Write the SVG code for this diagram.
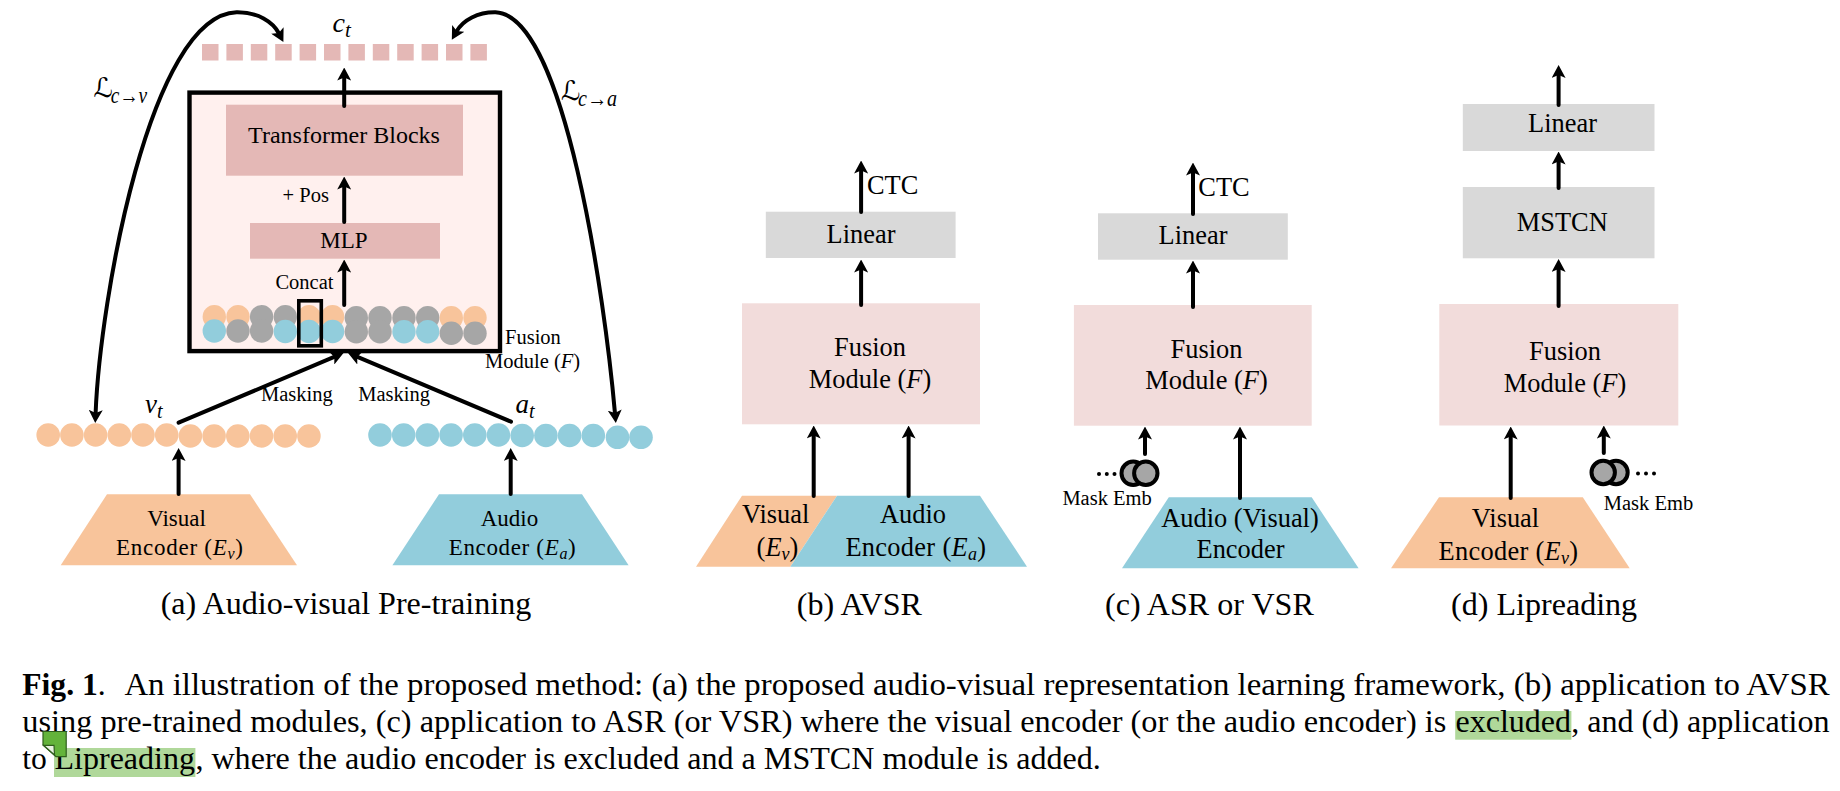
<svg xmlns="http://www.w3.org/2000/svg" width="1840" height="791" viewBox="0 0 1840 791">
<defs>
<style>
text{font-family:"Liberation Serif","Times New Roman",serif;fill:#000}
.s20{font-size:20.5px}.s23{font-size:23px}.s24{font-size:24px}.s26{font-size:26.4px}.s32{font-size:32.1px}.b{font-size:31.6px}
.m{text-anchor:middle}
.i{font-style:italic}
.sq{fill:#e4b8b6}.o{fill:#f8c49b}.bl{fill:#92cddc}.g{fill:#a6a6a6}
.gr{fill:#d9d9d9}.pk{fill:#f2dcdb}.hl{fill:#b0d89a}
.ring{fill:#a6a6a6;stroke:#000;stroke-width:4}
.c{stroke:#000;stroke-width:4;fill:none;stroke-linecap:round}
.a{marker-end:url(#h)}
.aa{marker-start:url(#h);marker-end:url(#h)}
</style>
<marker id="h" markerUnits="userSpaceOnUse" markerWidth="13" markerHeight="14" viewBox="0 0 13 14" refX="3.5" refY="7" orient="auto-start-reverse"><path d="M0 0L13 7L0 14L3 7Z" fill="#000"/></marker>
</defs>
<rect width="1840" height="791" fill="#fff"/>

<g id="ct-tokens">
<rect class="sq" x="202" y="44" width="16.5" height="16.5"/><rect class="sq" x="226.4" y="44" width="16.5" height="16.5"/><rect class="sq" x="250.8" y="44" width="16.5" height="16.5"/><rect class="sq" x="275.2" y="44" width="16.5" height="16.5"/><rect class="sq" x="299.6" y="44" width="16.5" height="16.5"/><rect class="sq" x="324" y="44" width="16.5" height="16.5"/><rect class="sq" x="348.4" y="44" width="16.5" height="16.5"/><rect class="sq" x="372.8" y="44" width="16.5" height="16.5"/><rect class="sq" x="397.2" y="44" width="16.5" height="16.5"/><rect class="sq" x="421.6" y="44" width="16.5" height="16.5"/><rect class="sq" x="446" y="44" width="16.5" height="16.5"/><rect class="sq" x="470.4" y="44" width="16.5" height="16.5"/>
<text x="332.5" y="32" font-size="28" class="i">c<tspan font-size="21" dy="5">t</tspan></text>
</g>

<g id="fusion-a">
<rect x="189.5" y="92.6" width="310.5" height="258.5" fill="#fff0ee" stroke="#000" stroke-width="4.4"/>
<g id="transformer-blocks"><rect class="sq" x="226" y="104.7" width="237" height="71"/><text class="s24 m" x="344" y="143">Transformer Blocks</text></g>
<g id="mlp"><rect class="sq" x="250" y="223" width="190" height="35.7"/><text class="s23 m" x="344" y="247.7">MLP</text></g>
<text class="s20" x="282.6" y="201.7">+ Pos</text>
<text class="s20" x="275.4" y="289">Concat</text>
<g id="fused-tokens">
<circle class="o" cx="214.3" cy="316.7" r="11.7"/><circle class="o" cx="238" cy="316.7" r="11.7"/><circle class="g" cx="261.6" cy="316.7" r="11.7"/><circle class="g" cx="285.3" cy="316.7" r="11.7"/><circle class="o" cx="309" cy="316.7" r="11.7"/><circle class="o" cx="332.6" cy="316.7" r="11.7"/><circle class="g" cx="356.3" cy="317.7" r="11.7"/><circle class="g" cx="380" cy="317.7" r="11.7"/><circle class="g" cx="404" cy="317.7" r="11.7"/><circle class="g" cx="427.7" cy="317.7" r="11.7"/><circle class="o" cx="451.3" cy="317.7" r="11.7"/><circle class="o" cx="475" cy="317.7" r="11.7"/>
<circle class="bl" cx="214.3" cy="331" r="11.7"/><circle class="g" cx="238" cy="331" r="11.7"/><circle class="g" cx="261.6" cy="331" r="11.7"/><circle class="bl" cx="285.3" cy="331.5" r="11.7"/><circle class="bl" cx="309" cy="331.5" r="11.7"/><circle class="bl" cx="332.6" cy="331.5" r="11.7"/><circle class="g" cx="356.3" cy="331.7" r="11.7"/><circle class="g" cx="380" cy="331.7" r="11.7"/><circle class="bl" cx="404" cy="331.7" r="11.7"/><circle class="bl" cx="427.7" cy="331.7" r="11.7"/><circle class="g" cx="451.3" cy="333.3" r="11.7"/><circle class="g" cx="475" cy="333.3" r="11.7"/>
<rect x="298.8" y="300.8" width="22.5" height="45" fill="none" stroke="#000" stroke-width="3.6"/>
</g>
<text class="s20" x="505" y="344">Fusion</text>
<text class="s20" x="485" y="368.3">Module (<tspan class="i">F</tspan>)</text>
</g>

<g id="vt-tokens">
<circle class="o" cx="48.2" cy="435" r="11.8"/><circle class="o" cx="71.9" cy="435" r="11.8"/><circle class="o" cx="95.6" cy="435" r="11.8"/><circle class="o" cx="119.3" cy="435" r="11.8"/><circle class="o" cx="143" cy="435" r="11.8"/><circle class="o" cx="166.7" cy="435" r="11.8"/><circle class="o" cx="190.4" cy="436" r="11.8"/><circle class="o" cx="214.1" cy="436" r="11.8"/><circle class="o" cx="237.8" cy="436" r="11.8"/><circle class="o" cx="261.5" cy="436" r="11.8"/><circle class="o" cx="285.2" cy="436" r="11.8"/><circle class="o" cx="308.9" cy="436" r="11.8"/>
<text x="145" y="413" font-size="27" class="i">v<tspan font-size="20" dy="5">t</tspan></text>
</g>
<g id="at-tokens">
<circle class="bl" cx="380" cy="435" r="11.8"/><circle class="bl" cx="403.7" cy="435" r="11.8"/><circle class="bl" cx="427.4" cy="435" r="11.8"/><circle class="bl" cx="451.1" cy="435" r="11.8"/><circle class="bl" cx="474.8" cy="435" r="11.8"/><circle class="bl" cx="498.5" cy="435" r="11.8"/><circle class="bl" cx="522.2" cy="435.5" r="11.8"/><circle class="bl" cx="545.9" cy="435.5" r="11.8"/><circle class="bl" cx="569.6" cy="435.5" r="11.8"/><circle class="bl" cx="593.3" cy="435.5" r="11.8"/><circle class="bl" cx="617.5" cy="437.3" r="11.8"/><circle class="bl" cx="641" cy="437.3" r="11.8"/>
<text x="515.6" y="413" font-size="27" class="i">a<tspan font-size="20" dy="5">t</tspan></text>
</g>

<g id="visual-encoder-a"><polygon class="o" points="107,494.3 250,494.3 297,565.3 60.7,565.3"/><text class="s23 m" x="176.5" y="525.7">Visual</text><text class="s23" x="116" y="555" textLength="127" lengthAdjust="spacing">Encoder (<tspan class="i">E<tspan font-size="16" dy="4">v</tspan></tspan><tspan dy="-4">)</tspan></text></g>
<g id="audio-encoder-a"><polygon class="bl" points="439,494.3 582,494.3 628.6,565.3 392.4,565.3"/><text class="s23 m" x="509.5" y="525.7">Audio</text><text class="s23" x="448.7" y="555" textLength="127" lengthAdjust="spacing">Encoder (<tspan class="i">E<tspan font-size="16" dy="4">a</tspan></tspan><tspan dy="-4">)</tspan></text></g>

<g id="loss-labels">
<text x="93.5" y="97" font-size="27" style="font-family:'DejaVu Serif','DejaVu Sans',serif">ℒ</text><text class="i" x="110.7" y="103" font-size="23" textLength="36.5" lengthAdjust="spacingAndGlyphs">c→v</text>
<text x="561" y="100" font-size="27" style="font-family:'DejaVu Serif','DejaVu Sans',serif">ℒ</text><text class="i" x="578" y="106" font-size="23" textLength="39" lengthAdjust="spacingAndGlyphs">c→a</text>
</g>
<text class="s20" x="261" y="400.7">Masking</text>
<text class="s20" x="358.3" y="400.7">Masking</text>

<g id="panel-b">
<g id="linear-b"><rect class="gr" x="765.8" y="211.7" width="189.8" height="46.3"/><text class="s26 m" x="861" y="242.7">Linear</text></g>
<g id="fusion-b"><rect class="pk" x="742" y="303.3" width="238" height="121"/><text class="s26 m" x="870" y="356">Fusion</text><text class="s26 m" x="870" y="387.7">Module (<tspan class="i">F</tspan>)</text></g>
<g id="encoders-b">
<polygon class="o" points="742,495.7 837,495.7 790.3,566.7 696,566.7"/>
<polygon class="bl" points="837,495.7 980,495.7 1027,566.7 790.3,566.7"/>
<text class="s26" x="742" y="523">Visual</text><text class="s26" x="756.6" y="555.7">(<tspan class="i">E<tspan font-size="18" dy="4">v</tspan></tspan><tspan dy="-4">)</tspan></text>
<text class="s26" x="880" y="523">Audio</text><text class="s26" x="845.4" y="555.7" textLength="140.6" lengthAdjust="spacing">Encoder (<tspan class="i">E<tspan font-size="18" dy="4">a</tspan></tspan><tspan dy="-4">)</tspan></text>
</g>
<text class="s26" x="867" y="194">CTC</text>
</g>

<g id="panel-c">
<g id="linear-c"><rect class="gr" x="1098" y="213.3" width="189.8" height="46.4"/><text class="s26 m" x="1193" y="244">Linear</text></g>
<g id="fusion-c"><rect class="pk" x="1073.9" y="305" width="237.8" height="120.7"/><text class="s26 m" x="1206.5" y="357.7">Fusion</text><text class="s26 m" x="1206.5" y="389.3">Module (<tspan class="i">F</tspan>)</text></g>
<g id="encoder-c"><polygon class="bl" points="1168.8,497.3 1311.7,497.3 1358.6,568.3 1122,568.3"/><text class="s26 m" x="1240" y="526.7">Audio (Visual)</text><text class="s26 m" x="1240.5" y="558.3">Encoder</text></g>
<g id="mask-c"><circle class="ring" cx="1133.2" cy="473.3" r="11.7"/><circle class="ring" cx="1145.8" cy="473.3" r="11.7"/><circle cx="1099" cy="474" r="2"/><circle cx="1106.8" cy="474" r="2"/><circle cx="1114.5" cy="474" r="2"/><text class="s20" x="1062.4" y="505">Mask Emb</text></g>
<text class="s26" x="1198.3" y="195.7">CTC</text>
</g>

<g id="panel-d">
<g id="linear-d"><rect class="gr" x="1462.8" y="104" width="191.7" height="47"/><text class="s26 m" x="1562.5" y="131.7">Linear</text></g>
<g id="mstcn-d"><rect class="gr" x="1462.8" y="187" width="191.7" height="71.3"/><text class="s26 m" x="1562.3" y="230.9">MSTCN</text></g>
<g id="fusion-d"><rect class="pk" x="1439.3" y="304" width="239" height="121.5"/><text class="s26 m" x="1565" y="360.4">Fusion</text><text class="s26 m" x="1565" y="392.2">Module (<tspan class="i">F</tspan>)</text></g>
<g id="encoder-d"><polygon class="o" points="1439,497.3 1582.8,497.3 1629.7,568.3 1391,568.3"/><text class="s26 m" x="1505.5" y="527.2">Visual</text><text class="s26" x="1438.6" y="559.8" textLength="139.4" lengthAdjust="spacing">Encoder (<tspan class="i">E<tspan font-size="18" dy="4">v</tspan></tspan><tspan dy="-4">)</tspan></text></g>
<g id="mask-d"><circle class="ring" cx="1616" cy="472.5" r="11.7"/><circle class="ring" cx="1603.2" cy="472.5" r="11.7"/><circle cx="1638" cy="473.6" r="2"/><circle cx="1646" cy="473.6" r="2"/><circle cx="1654" cy="473.6" r="2"/><text class="s20" x="1603.8" y="509.8">Mask Emb</text></g>
</g>

<g id="connectors">
<path class="c a" d="M344.2 106V77"/>
<path class="c a" d="M344.2 222V186"/>
<path class="c a" d="M344.2 305V269"/>
<path class="c a" d="M178.6 422.7L334.8 356.7"/>
<path class="c a" d="M511 421.7L356.8 356.7"/>
<path class="c a" d="M178.6 494V457.5"/>
<path class="c a" d="M510.7 494V457.5"/>
<path class="c aa" d="M95.6 413.5C100 300 150 15 236.6 12.3C258 12 273 22 279 33.5"/>
<path class="c aa" d="M615 413.5C605 300 565 15 495.5 12.3C478 12 463 20 456.5 31.5"/>
<path class="c a" d="M861.1 212V170"/>
<path class="c a" d="M861.1 305V269"/>
<path class="c a" d="M813.7 496V435"/>
<path class="c a" d="M908.6 496V435"/>
<path class="c a" d="M1193 214V172"/>
<path class="c a" d="M1193 307V270"/>
<path class="c a" d="M1145 454V436"/>
<path class="c a" d="M1240 498V436"/>
<path class="c a" d="M1558.6 105V74.5"/>
<path class="c a" d="M1558.6 188V161"/>
<path class="c a" d="M1558.6 306V268.5"/>
<path class="c a" d="M1510.7 498V436"/>
<path class="c a" d="M1603.8 453V435"/>
</g>

<g id="captions">
<text class="s32" x="160.7" y="614">(a) Audio-visual Pre-training</text>
<text class="s32" x="796.8" y="615">(b) AVSR</text>
<text class="s32" x="1105" y="615">(c) ASR or VSR</text>
<text class="s32" x="1451" y="615">(d) Lipreading</text>
</g>

<g id="figure-text">
<rect class="hl" x="1455.2" y="711" width="116.2" height="28.7"/>
<rect class="hl" x="54" y="748" width="141.4" height="29"/>
<text class="b" x="22.3" y="695"><tspan font-weight="bold">Fig. 1</tspan>.</text>
<text class="b" x="124.4" y="695" textLength="1705.2" lengthAdjust="spacingAndGlyphs">An illustration of the proposed method: (a) the proposed audio-visual representation learning framework, (b) application to AVSR</text>
<text class="b" x="22.3" y="732.3" textLength="1424" lengthAdjust="spacingAndGlyphs">using pre-trained modules, (c) application to ASR (or VSR) where the visual encoder (or the audio encoder) is</text>
<text class="b" x="1455.5" y="732.3" textLength="115.5" lengthAdjust="spacingAndGlyphs">excluded</text>
<text class="b" x="1571.2" y="732.3" textLength="258.4" lengthAdjust="spacingAndGlyphs">, and (d) application</text>
<text class="b" x="22.3" y="769.3">to</text>
<text class="b" x="54.5" y="769.3" textLength="140.5" lengthAdjust="spacingAndGlyphs">Lipreading</text>
<text class="b" x="195.4" y="769.3" textLength="905.4" lengthAdjust="spacingAndGlyphs">, where the audio encoder is excluded and a MSTCN module is added.</text>
<g id="note-icon">
<polygon points="43,731.5 66.2,731.5 66.2,756.7 56,756.7 43,745" fill="#63b33a" stroke="#2f5f1c" stroke-width="1.2"/>
<polygon points="43.5,745.3 54,745.3 54.5,755" fill="#e8f2e0" stroke="#2f5f1c" stroke-width="1.2"/>
</g>
</g>
</svg>
